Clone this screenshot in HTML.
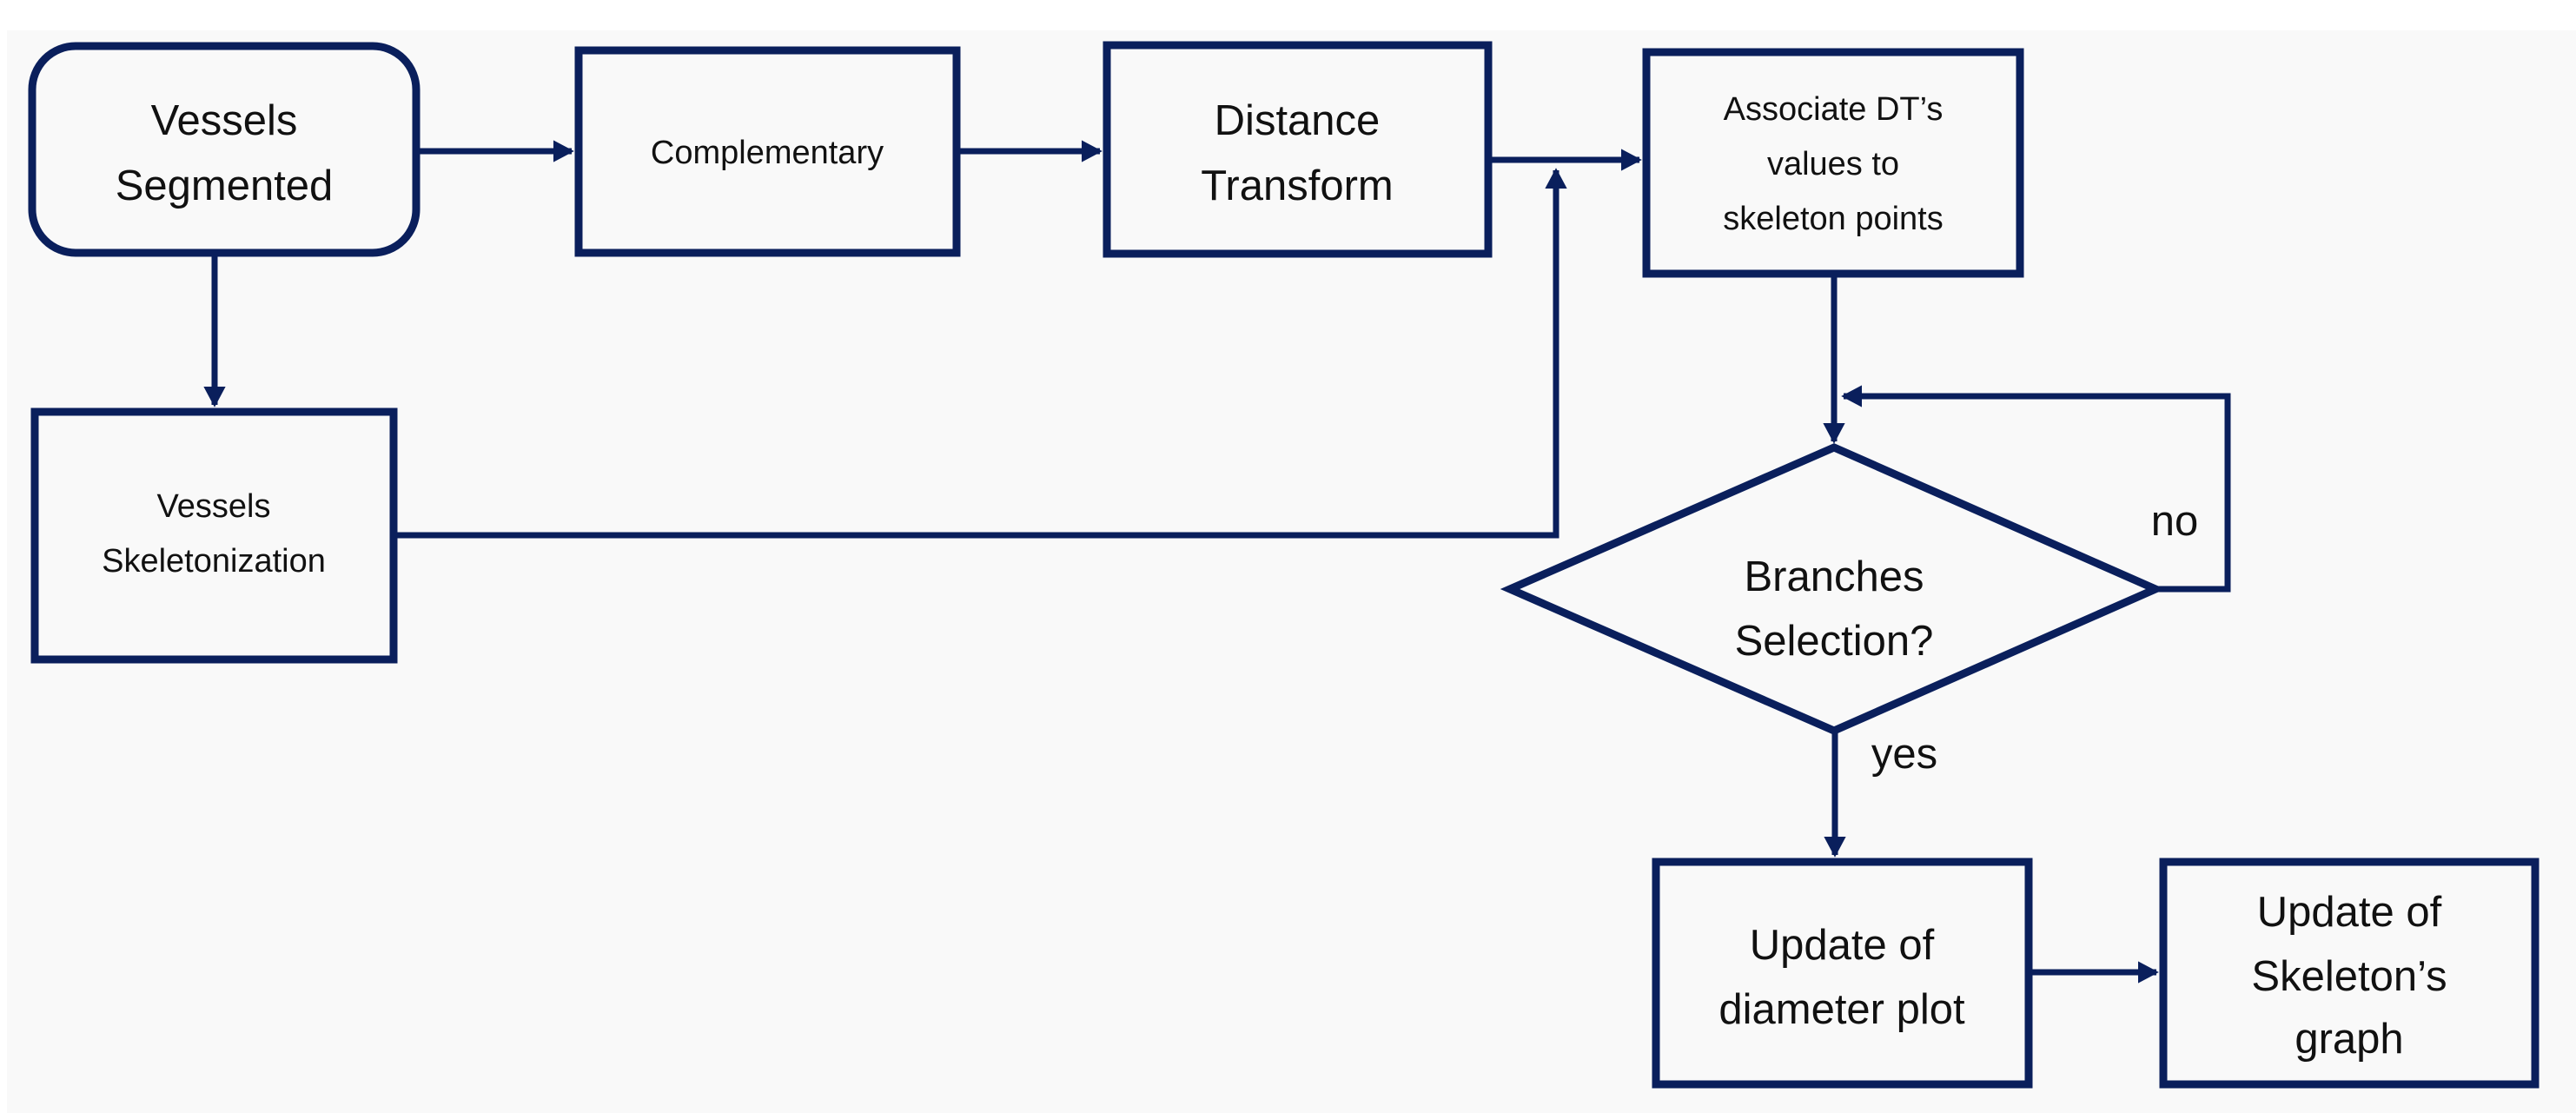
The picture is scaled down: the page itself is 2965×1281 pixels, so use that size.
<!DOCTYPE html>
<html><head><meta charset="utf-8"><style>
html,body{margin:0;padding:0;background:#fff;}
svg{display:block;}
text{font-family:"Liberation Sans",sans-serif;fill:#111;text-anchor:middle;}
</style></head><body>
<svg width="2965" height="1281" viewBox="0 0 2965 1281" xmlns="http://www.w3.org/2000/svg">
<defs>
<marker id="a" markerWidth="3.4" markerHeight="3.6" refX="3" refY="1.8" orient="auto" markerUnits="strokeWidth">
<path d="M0,0 L3.4,1.8 L0,3.6 Z" fill="#0a1f5c"/>
</marker>
</defs>
<rect x="8" y="35" width="2957" height="1246" fill="#f9f9f9"/>
<g fill="none" stroke="#0a1f5c" stroke-width="9">
<rect x="37" y="53" width="442" height="238" rx="50"/>
<rect x="666" y="58" width="435" height="233"/>
<rect x="1274" y="52" width="439" height="240"/>
<rect x="1895" y="60" width="430" height="255"/>
<rect x="40" y="474" width="413" height="285"/>
<polygon points="2111,515 2481,678 2111,841 1738,678"/>
<rect x="1906" y="992" width="429" height="256"/>
<rect x="2490" y="992" width="428" height="256"/>
</g>
<g fill="none" stroke="#0a1f5c" stroke-width="7">
<line x1="483" y1="174" x2="658" y2="174" marker-end="url(#a)"/>
<line x1="1105" y1="174" x2="1266" y2="174" marker-end="url(#a)"/>
<line x1="1717" y1="184" x2="1887" y2="184" marker-end="url(#a)"/>
<polyline points="457,616 1791,616 1791,196" marker-end="url(#a)"/>
<line x1="247" y1="295" x2="247" y2="466" marker-end="url(#a)"/>
<line x1="2111" y1="319" x2="2111" y2="508" marker-end="url(#a)"/>
<polyline points="2481,678 2564,678 2564,456 2122,456" marker-end="url(#a)"/>
<line x1="2112" y1="841" x2="2112" y2="984" marker-end="url(#a)"/>
<line x1="2335" y1="1119" x2="2482" y2="1119" marker-end="url(#a)"/>
</g>
<g font-size="49">
<text x="258" y="155">Vessels</text>
<text x="258" y="230">Segmented</text>
<text x="1493" y="155">Distance</text>
<text x="1493" y="230">Transform</text>
<text x="2111" y="680">Branches</text>
<text x="2111" y="754">Selection?</text>
<text x="2120" y="1104">Update of</text>
<text x="2120" y="1178">diameter plot</text>
<text x="2704" y="1066">Update of</text>
<text x="2704" y="1140">Skeleton’s</text>
<text x="2704" y="1212">graph</text>
<text x="2503" y="616">no</text>
<text x="2192" y="884">yes</text>
</g>
<g font-size="38">
<text x="883" y="188">Complementary</text>
<text x="2110" y="138">Associate DT’s</text>
<text x="2110" y="201">values to</text>
<text x="2110" y="264">skeleton points</text>
<text x="246" y="595">Vessels</text>
<text x="246" y="658">Skeletonization</text>
</g>
</svg>
</body></html>
